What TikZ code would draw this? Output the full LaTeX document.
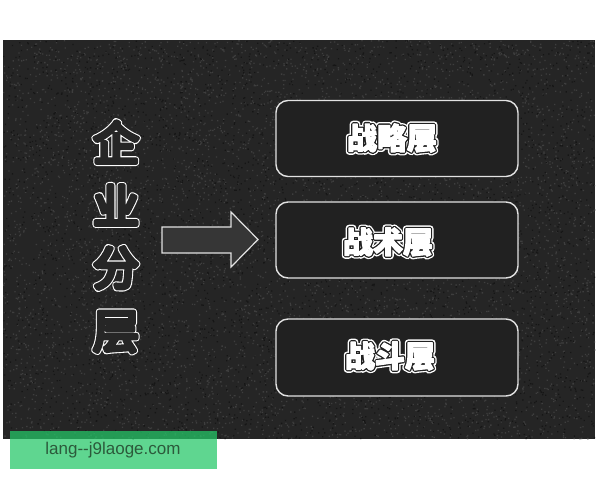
\documentclass[tikz,border=0pt]{standalone}
\usepackage{fontspec}
\setmainfont{Liberation Sans}
\newfontfamily\cjk{Noto Sans CJK SC}
\definecolor{bgc}{HTML}{252525}
\definecolor{noiselight}{HTML}{3E3E3E}
\definecolor{noisedark}{HTML}{161616}
\definecolor{boxfill}{HTML}{212121}
\definecolor{boxline}{HTML}{E2E2E2}
\definecolor{arrowfill}{HTML}{363636}
\definecolor{inner}{HTML}{262626}
\definecolor{wmgreen}{RGB}{36,200,104}
\definecolor{wmtext}{HTML}{2C5A3B}
\newcommand\pdfr[3]{\special{pdf:literal direct #1 Tr #2 w 1 j 1 J}#3\special{pdf:literal direct 0 Tr 1 w}}
\newcommand\hollowtxt[1]{\rlap{\color{white}\pdfr{2}{6.6}{#1}}{\color{inner}\pdfr{2}{4.4}{#1}}}
\newcommand\bubbletxt[1]{\rlap{\color{white}\pdfr{2}{6.5}{#1}}\rlap{\color{boxfill}\pdfr{2}{3.8}{#1}}{\color{white}\pdfr{2}{1.2}{#1}}}
\tikzset{
  layerbox/.style={draw=boxline, line width=1.4pt, fill=boxfill, rounded corners=12pt,
    minimum width=242pt, minimum height=76pt, inner sep=0pt},
  bigchar/.style={inner sep=0pt, font=\cjk\fontsize{46}{46}\selectfont},
  boxtext/.style={inner sep=0pt, font=\cjk\bfseries\fontsize{30}{30}\selectfont},
}
\begin{document}
\begin{tikzpicture}[x=1pt,y=-1pt]
\useasboundingbox (0,0) rectangle (600,480);
\fill[white] (0,0) rectangle (600,480);
% textured dark background
\fill[bgc] (3,40) rectangle (595,439);
\pgfmathsetseed{7}
\fill[noiselight] foreach \i in {1,...,6000} { ({3+591*rnd},{40+398*rnd}) rectangle ++(1.3,1.3) };
\fill[noisedark] foreach \i in {1,...,3500} { ({3+591*rnd},{40+398*rnd}) rectangle ++(1.3,1.3) };
% left column
\node[bigchar] (c1) at (116,142) {\hollowtxt{企}};
\node[bigchar] (c2) at (116,205) {\hollowtxt{业}};
\node[bigchar] (c3) at (116,268) {\hollowtxt{分}};
\node[bigchar] (c4) at (116,332) {\hollowtxt{层}};
% arrow
\draw[draw=boxline, line width=1.2pt, fill=arrowfill, line join=miter]
  (162,227) -- (231,227) -- (231,212) -- (258,239.5) -- (231,267) -- (231,253) -- (162,253) -- cycle;
% boxes
\node[layerbox] (b1) at (397,138.5) {};
\node[layerbox] (b2) at (397,240) {};
\node[layerbox, minimum height=77pt] (b3) at (397,357.5) {};
\node[boxtext] (t1) at (392,138) {\bubbletxt{战略层}};
\node[boxtext] (t2) at (388,242) {\bubbletxt{战术层}};
\node[boxtext] (t3) at (390,356) {\bubbletxt{战斗层}};
% watermark
\fill[wmgreen, opacity=0.73] (10,431) rectangle (217,469);
\node[inner sep=0pt, text=wmtext, font=\fontsize{17}{17}\selectfont] (wm) at (113,450) {lang{-}{-}j9laoge.com};
\end{tikzpicture}
\end{document}
